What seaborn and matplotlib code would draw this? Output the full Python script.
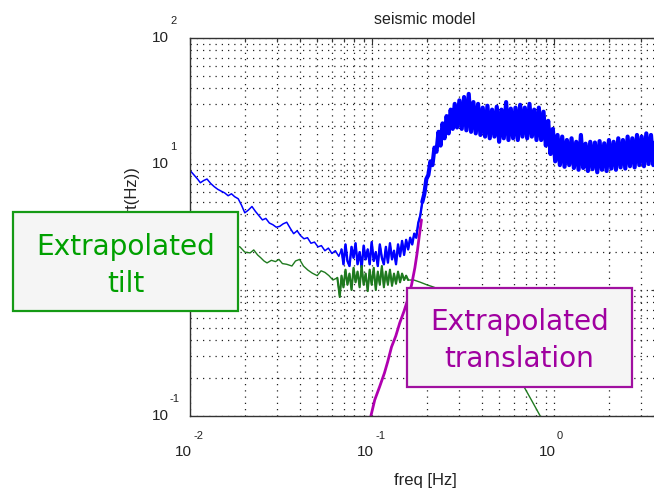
import matplotlib
matplotlib.use("Agg")
import matplotlib.pyplot as plt
import seaborn as sns
import pandas as pd
from matplotlib.patches import Rectangle
from matplotlib.transforms import offset_copy

# ---------------- data ----------------
blue_freq = [
    0.0100, 0.0105, 0.0110, 0.0114, 0.0119, 0.0124, 0.0130, 0.0136, 0.0142, 0.0148,
    0.0155, 0.0162, 0.0169, 0.0176, 0.0184, 0.0192, 0.0200, 0.0209, 0.0219, 0.0229,
    0.0239, 0.0250, 0.0261, 0.0273, 0.0285, 0.0298, 0.0311, 0.0325, 0.0340, 0.0355,
    0.0371, 0.0388, 0.0405, 0.0423, 0.0442, 0.0462, 0.0483, 0.0505, 0.0527, 0.0551,
    0.0576, 0.0602, 0.0629, 0.0657,
    0.0680, 0.0697, 0.0715, 0.0733, 0.0752, 0.0772, 0.0792, 0.0812, 0.0833, 0.0855,
    0.0877, 0.0900, 0.0923, 0.0947, 0.0971, 0.0996, 0.1022, 0.1049, 0.1076, 0.1104,
    0.1133, 0.1162, 0.1192, 0.1223, 0.1255, 0.1288, 0.1321, 0.1355, 0.1390, 0.1426,
    0.1463, 0.1501, 0.1540, 0.1580, 0.1621,
    0.1663, 0.1706, 0.1750, 0.1795, 0.1842, 0.1890, 0.1939, 0.1989, 0.2041, 0.2094,
    0.2148, 0.2204, 0.2261, 0.2320, 0.2380, 0.2442, 0.2505, 0.2570, 0.2637, 0.2706,
    0.2776, 0.2848,
    0.2933, 0.3021, 0.3112, 0.3205, 0.3301, 0.3400, 0.3502, 0.3607, 0.3716, 0.3827,
    0.3942, 0.4060, 0.4182, 0.4308, 0.4437, 0.4570, 0.4707, 0.4848, 0.4994, 0.5144,
    0.5298, 0.5457, 0.5621, 0.5790, 0.5963, 0.6142, 0.6326, 0.6516, 0.6712, 0.6913,
    0.7121, 0.7334, 0.7554, 0.7781, 0.8014, 0.8255, 0.8502, 0.8757, 0.9020, 0.9291,
    0.9570, 0.9857, 1.0153, 1.0457, 1.0771, 1.1094, 1.1427, 1.1770, 1.2123, 1.2486,
    1.2861, 1.3247, 1.3644, 1.4054, 1.4475, 1.4909, 1.5357, 1.5817, 1.6292, 1.6781,
    1.7284, 1.7803, 1.8337, 1.8887, 1.9454, 2.0037, 2.0638, 2.1258, 2.1895, 2.2552,
    2.3229, 2.3926, 2.4644, 2.5383, 2.6144, 2.6929, 2.7737, 2.8569, 2.9426, 3.0309,
    3.1218, 3.2154, 3.3119, 3.4113, 3.5136, 3.6190, 3.7276, 3.8394,
]
blue_asd = [
    8.9, 8.2, 7.6, 7.1, 7.4, 7.6, 7.0, 6.6, 6.3, 6.1,
    5.9, 5.6, 5.8, 5.5, 5.3, 4.7, 4.1, 4.3, 4.6, 4.2,
    3.9, 3.6, 3.7, 3.4, 3.3, 3.15, 3.2, 3.35, 3.45, 3.1,
    2.8, 2.95, 2.7, 2.55, 2.6, 2.35, 2.4, 2.2, 2.25, 2.05,
    2.15, 1.95, 2.05, 1.85,
    2.1, 1.6, 2.3, 1.7, 1.55, 2.2, 1.8, 2.35, 1.6, 2.0,
    1.5, 2.25, 1.75, 2.1, 1.6, 2.4, 1.7, 2.0, 1.55, 2.3,
    1.8, 1.6, 2.2, 1.65, 2.35, 1.75, 2.05, 1.6, 2.3, 1.85,
    2.45, 1.9, 2.5, 2.1, 2.6,
    2.3, 2.8, 2.6, 3.4, 3.9, 5.0, 5.8, 7.6, 8.2, 10.5,
    9.8, 13.5, 12.5, 18, 14, 21, 16, 24, 17.5, 27,
    19, 30,
    19.5, 32, 19, 34, 18.5, 36, 18, 31, 17.5, 30,
    17, 28, 16.5, 29, 16, 27, 16.5, 28.5, 15, 27,
    16, 31, 15.5, 27.5, 16, 28, 15.5, 29.5, 16.5, 28,
    16, 30, 16.5, 27, 15.5, 28, 15.5, 26, 14, 22,
    12, 19, 10.5, 17, 9.8, 16.5, 9.5, 15.5, 9.8, 16,
    9.3, 15, 9.0, 17, 9.3, 14.5, 8.8, 15, 9.1, 14.8,
    8.6, 15.2, 9.0, 14.6, 8.8, 15.5, 9.2, 15, 9.0, 16,
    9.4, 15.5, 9.2, 16.5, 9.6, 16, 9.4, 17, 9.8, 16.5,
    9.6, 17.5, 10.0, 17, 9.8, 17.5, 10.1, 17,
]

green_freq = [
    0.0100, 0.0120, 0.0140, 0.0160, 0.0175, 0.0188, 0.0200, 0.0214, 0.0224, 0.0235,
    0.0245, 0.0255, 0.0265, 0.0280, 0.0295, 0.0308, 0.0322, 0.0340, 0.0363, 0.0380,
    0.0400, 0.0420, 0.0444, 0.0470, 0.0500, 0.0525, 0.0551, 0.0580, 0.0610, 0.0645,
    0.0665, 0.0680, 0.0697, 0.0715, 0.0733, 0.0752, 0.0772, 0.0792, 0.0812, 0.0833,
    0.0855, 0.0877, 0.0900, 0.0923, 0.0947, 0.0971, 0.0996, 0.1022, 0.1049, 0.1076,
    0.1104, 0.1133, 0.1162, 0.1192, 0.1223, 0.1255, 0.1288, 0.1321, 0.1355, 0.1390,
    0.1426, 0.1463, 0.1501, 0.1540, 0.1580, 0.1700, 0.1850, 0.2000, 0.2160, 0.2400,
    0.2700, 0.3000, 0.3500, 0.4000, 0.4500, 0.5000, 0.5600, 0.6200, 0.6900, 0.7600,
    0.8400, 0.9000,
]
green_asd = [
    2.6, 2.5, 2.4, 2.3, 2.25, 2.2, 2.0, 1.97, 2.08, 1.9,
    1.8, 1.7, 1.64, 1.72, 1.68, 1.75, 1.62, 1.6, 1.55, 1.7,
    1.75, 1.55, 1.44, 1.36, 1.3, 1.42, 1.38, 1.3, 1.2, 1.25,
    0.88, 1.3, 1.05, 1.45, 1.1, 1.35, 1.0, 1.5, 1.15, 1.4,
    1.05, 1.55, 1.1, 1.35, 0.98, 1.45, 1.1, 1.5, 1.0, 1.4,
    1.1, 1.55, 1.05, 1.4, 1.1, 1.45, 1.08, 1.35, 1.12, 1.4,
    1.15, 1.35, 1.2, 1.3, 1.2, 1.2, 1.15, 1.1, 1.06, 1.0,
    0.93, 0.85, 0.72, 0.6, 0.48, 0.39, 0.3, 0.22, 0.167, 0.13,
    0.1, 0.085,
]

purple_freq = [0.0970, 0.0986, 0.1035, 0.1100, 0.1170, 0.1220, 0.1280, 0.1350,
               0.1420, 0.1500, 0.1570, 0.1650, 0.1720, 0.1770, 0.1820, 0.1870]
purple_asd = [0.09, 0.1, 0.134, 0.17, 0.219, 0.27, 0.353, 0.43,
              0.547, 0.68, 0.834, 1.1, 1.5, 1.97, 2.7, 3.6]

x_ticks = [0.01, 0.1, 1.0]
x_exponents = ["-2", "-1", "0"]
y_ticks = [0.1, 1.0, 10.0, 100.0]
y_exponents = ["-1", "0", "1", "2"]

title_text = "seismic model"
xlabel_text = "freq [Hz]"
ylabel_text = "ASD (m/sqrt(Hz))"
tilt_lines = ["Extrapolated", "tilt"]
trans_lines = ["Extrapolated", "translation"]

# ---------------- style ----------------
sns.set_style("white")
plt.rcParams["font.family"] = ["Liberation Sans", "DejaVu Sans"]

W, H = 654, 490
fig = plt.figure(figsize=(W / 100, H / 100), dpi=100)
fig.patch.set_facecolor("white")

ax_left, ax_right, ax_top, ax_bottom = 190, 658, 38, 416
ax = fig.add_axes([ax_left / W, 1 - ax_bottom / H,
                   (ax_right - ax_left) / W, (ax_bottom - ax_top) / H])
ax.set_xscale("log")
ax.set_yscale("log")

df_b = pd.DataFrame({"f": blue_freq, "a": blue_asd})
df_g = pd.DataFrame({"f": green_freq, "a": green_asd})
df_p = pd.DataFrame({"f": purple_freq, "a": purple_asd})

# blue: thin where the spectrum is smooth, heavier where it is a dense noisy band
sns.lineplot(data=df_b, x="f", y="a", ax=ax, color="#0000FF", lw=1.1,
             estimator=None, sort=False, legend=False)
sns.lineplot(data=df_b[df_b["f"] >= 0.066], x="f", y="a", ax=ax, color="#0000FF",
             lw=1.7, estimator=None, sort=False, legend=False)
sns.lineplot(data=df_b[df_b["f"] >= 0.185], x="f", y="a", ax=ax, color="#0000FF",
             lw=3.0, estimator=None, sort=False, legend=False)
sns.lineplot(data=df_g, x="f", y="a", ax=ax, color="#1F7A1F", lw=1.0,
             estimator=None, sort=False, legend=False)
sns.lineplot(data=df_g[(df_g["f"] >= 0.064) & (df_g["f"] <= 0.16)], x="f", y="a",
             ax=ax, color="#1F7A1F", lw=1.5, estimator=None, sort=False, legend=False)
sns.lineplot(data=df_p, x="f", y="a", ax=ax, color="#B000B0", lw=2.0,
             estimator=None, sort=False, legend=False)

decade_px = 182.0
ax.set_xlim(0.01, 10 ** ((ax_right - ax_left) / decade_px - 2))
ax.set_ylim(0.1, 100)

ax.grid(True, which="both", color="#222222", linestyle=(0, (1, 4)), linewidth=0.9)
ax.tick_params(which="both", direction="in", top=True, right=True,
               labelbottom=False, labelleft=False, color="#333333")
ax.tick_params(which="major", length=5, width=0.8)
ax.tick_params(which="minor", length=3, width=0.8)
for s in ax.spines.values():
    s.set_color("#333333")
    s.set_linewidth(1.0)
ax.set_xlabel("")
ax.set_ylabel("")
ax.set_xticks(x_ticks)

# MATLAB-style tick labels "10" with raised exponent
xt = ax.get_xaxis_transform()
for v, e in zip(x_ticks, x_exponents):
    ax.text(v, 0, "10", transform=offset_copy(xt, fig, x=2, y=-36, units="dots"),
            ha="right", va="center", fontsize=11, color="#222222", clip_on=False)
    ax.text(v, 0, e, transform=offset_copy(xt, fig, x=3, y=-20, units="dots"),
            ha="left", va="center", fontsize=8, color="#222222", clip_on=False)
yt = ax.get_yaxis_transform()
for v, e in zip(y_ticks, y_exponents):
    ax.text(0, v, "10", transform=offset_copy(yt, fig, x=-21, y=0, units="dots"),
            ha="right", va="center", fontsize=11, color="#222222", clip_on=False)
    ax.text(0, v, e, transform=offset_copy(yt, fig, x=-20, y=17, units="dots"),
            ha="left", va="center", fontsize=8, color="#222222", clip_on=False)

fig.text(425 / W, 1 - 19 / H, title_text, ha="center", va="center",
         fontsize=11.5, color="#222222")
fig.text(425 / W, 1 - 480 / H, xlabel_text, ha="center", va="center",
         fontsize=12, color="#222222")
fig.text(133 / W, 1 - 167 / H, ylabel_text, ha="center", va="top",
         rotation=90, fontsize=12, color="#222222")

# ---------------- annotation boxes ----------------
box_texts = []


def add_box(x0, y0, x1, y1, lines, baselines, tcolor, ecolor):
    rect = Rectangle((x0 / W, 1 - y1 / H), (x1 - x0) / W, (y1 - y0) / H,
                     transform=fig.transFigure, facecolor="#F5F5F5",
                     edgecolor=ecolor, lw=1.6, zorder=5)
    fig.add_artist(rect)
    cx = (x0 + x1) / 2
    for line, b in zip(lines, baselines):
        t = fig.text(cx / W, 1 - b / H, line, ha="center", va="baseline",
                     fontsize=20, color=tcolor, zorder=6, family="DejaVu Sans")
        box_texts.append(t)


add_box(13, 212, 238, 311, tilt_lines, [255, 292], "#00A000", "#159A15")
add_box(407, 288, 632, 387, trans_lines, [330, 367], "#A000A0", "#A010A0")

fig.canvas.draw()
r = fig.canvas.get_renderer()
w = box_texts[0].get_window_extent(r).width
scale = 180.0 / w
for t in box_texts:
    t.set_fontsize(20 * scale)

fig.savefig("out.png", dpi=100)
